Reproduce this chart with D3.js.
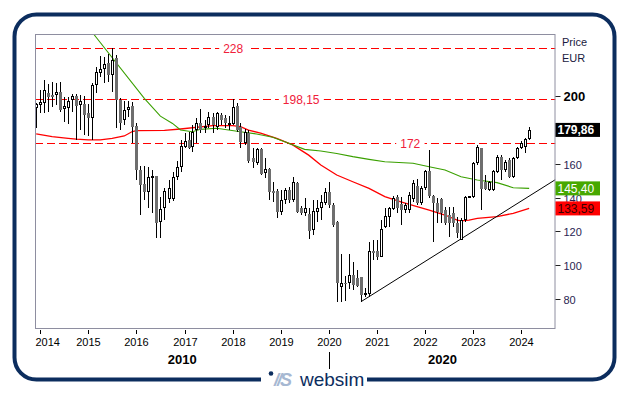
<!DOCTYPE html>
<html><head><meta charset="utf-8">
<script src="https://cdn.jsdelivr.net/npm/d3@7/dist/d3.min.js"></script>
<style>
body{margin:0;background:#fff}
svg{display:block;font-family:"Liberation Sans",Arial,sans-serif}
</style>
</head><body>
<svg id="chart" width="629" height="395"></svg>
<script>
// ---------- DATA ----------
const firstMonth = "2013-12";   // first monthly candle
const openV  = [193,194.3,196,201.9,200.7,200.3,202.3,192.4,193,197.5,199.9,194.6,195.2,190.1,187.1,206.2,213.7,215.6,219.6,212.3,222,197.5,185.8,191.5,194,182.2,156.3,148,143,152.2,152.5,125.8,133.6,139.1,139.1,151.9,157.8,169.6,173.9,169.5,179.8,184.1,180.8,182.8,187.7,181.8,188.7,186.7,182.8,183.3,194,181.8,172,178.2,163.1,160.6,168.4,154.3,156.6,144,144,131.7,138.5,144.4,138.5,148.7,133.6,131,130.3,120.8,131.7,133.6,137,143.4,135.6,125.8,87.5,89.5,89.4,94.3,92.3,92.9,82.5,83.1,108.7,108.5,105.1,122.4,128.3,133,140.5,136.2,132.6,132.6,138.9,147,136.6,145.4,155.6,140.9,136.6,138.9,132.6,129.7,130.7,124.8,115,126.7,140.1,140.5,160.2,169,149.3,144.4,144.4,155.2,164.1,156.2,162.1,152.3,163.1,169,170,174.3];
const highV  = [196,203.4,209,207,208.3,207.4,208.4,199.5,199.5,200.9,201.1,200.5,199.9,195.2,207.4,217.2,223.5,223.1,224.7,228,224,198.8,197.2,197,196.6,183.8,158.3,158.3,157.9,156,152.5,140.6,145.4,150.3,155.3,161.5,173.9,177.9,178.8,182.8,186.7,192,185.7,190.6,189.6,190.6,189.6,188.7,188,197.9,196,184.1,180.2,179.8,169,169,169,163.1,157.2,149.4,145,144.4,145.4,146,152.3,149.3,135,140,133.6,138.5,138.5,141.5,145.4,149.3,136.6,126,107,94,107,102.2,97.3,93.3,86.4,114,115,115,126.7,133.6,134.6,140.9,141.5,140.5,137,143.4,150.3,151,146.8,156.2,168,141.5,139.5,139.5,134.6,134.6,134.6,128.7,127.7,140.9,141.2,161.1,171,169.4,153.3,150,156.2,165,165,162.1,163.1,164.1,170,173.5,174.9,181.5];
const lowV   = [181,190,190,190.7,193.6,194.6,190.7,184.8,183.4,190.7,174,180,176.9,176.3,174,201.5,211.3,207.8,208.4,202.5,180.8,180,182.8,187.3,172,150.4,129.8,138.6,133.7,131,116,116,126.8,136.6,138,150.3,155.3,169,168.5,167,172,178,177.9,180.8,177.9,179.8,182.8,180.8,179.8,182.8,178.8,169,171,160.2,157.2,159.2,153.3,151.3,138.5,137.5,127.7,129.7,136.2,137,137.5,130.7,129.7,129,115.3,117.9,125.8,126.7,135.6,134,122.8,78.6,78.6,79,86,85.5,87,78.6,81.5,81.5,103.2,103.2,104.7,121.8,122.8,132.6,130.7,123.8,131,130.7,137.5,135.6,135.6,144.4,140,114,124.8,124.8,123.8,116.9,122.8,115.9,115,125.8,139.5,139.5,159.2,132.6,144.4,144,144,154.3,150.3,155,151.3,151.8,162.5,168.5,166,173.8];
const closeV = [195,196.6,203.4,199.5,199.5,202.3,191.7,194,197,199.9,194,197,188.7,186.7,206.4,214,215.6,218.8,212.1,221.1,197.5,184.2,191.7,193.2,181.8,156.3,147.4,143.5,152.4,152.6,125.2,133.1,143.9,145.4,151.9,157.8,170.4,173.3,169,178.8,183.7,179.8,182.4,187.7,182.8,189.6,185.7,183.7,184.1,193.2,179.8,172.9,178.8,161.5,161.1,168.4,153.9,156.6,143.5,142.5,131.7,138.5,144.4,138.5,149.3,131.7,130.7,134,120.4,132.2,133.6,137.5,143.4,135.5,123.8,89.4,89.5,89,94.3,88.4,88,82.5,83.5,108.5,107.5,105.1,121.4,129.1,133.6,139.9,133.6,132.6,135.6,141.5,148.7,137,145.4,155.6,140.9,136.6,131.7,131.1,124.8,124.8,124.8,118.9,126.7,140.1,140.9,160.2,170,144.8,144.8,149.3,155.6,164.1,156.2,161.1,152.3,163.1,169,171.9,174.3,179.86];

// moving averages (candle number, value)
const redMAIdx   = [1,5,9,11,14,17,20,23,25,26,33,37,45,50,52,54,57,61,65,69,72,76,80,84,88,92,96,99,103,106,107,109,111,116,120,124];
const redMAVal   = [177.5,175.9,174.9,174.4,174,174,174.9,176.3,178.9,179.5,179.6,180.4,182.4,182.4,181.8,179.8,177.9,174.9,171,165,159.2,153.3,149.3,145.4,140.5,137.5,134.6,132.6,129.7,126.7,126.3,126.7,127.7,128.7,130.7,133.59];
const greenMAIdx = [13,16,28,32,35,37,40,42,46,49,52,56,60,63,68,72,76,80,84,88,95,99,103,107,111,116,120,124];
const greenMAVal = [243.5,234.5,198.5,188,183.7,179.8,178.8,180.2,180.8,179.8,178.8,177.5,175.5,172.9,168.4,167.4,166,164.1,162.5,161.1,160.2,158.2,156.2,152.3,150.3,148.8,145.8,145.4];

const trendDates  = ["2020-09-01","2024-09-15"];
const trendValues = [78.6,150.5];

const levelValues = [228,198.15,172];
const levelLabels = ["228","198,15","172"];
const levelLabelDates = ["2018-01-05","2019-06-05","2021-09-10"];

const yTickValues = [80,100,120,140,160,200];   // 180 is hidden under the last-price box
const yearTicks = ["2014","2015","2016","2017","2018","2019","2020","2021","2022","2023","2024"];
const decadeLabels = ["2010","2020"];
const lastBoxes = [
  {label:"179,86", value:179.86, fill:"#000000", text:"#ffffff", bold:true},
  {label:"145,40", value:145.40, fill:"#47a800", text:"#ffffff", bold:false},
  {label:"133,59", value:133.59, fill:"#ff0000", text:"#3a0000", bold:false}
];

// ---------- SETUP ----------
const parseM = d3.timeParse("%Y-%m");
const parseD = d3.timeParse("%Y-%m-%d");
const start = parseM(firstMonth);
const candles = openV.map((o,i)=>({date:d3.timeMonth.offset(start,i), o, h:highV[i], l:lowV[i], c:closeV[i]}));
const idxDate = i => d3.timeMonth.offset(start, i-1);

const svg = d3.select("#chart");
const L=35, R=555.5, T=34, B=328;
const x = d3.scaleTime().domain([new Date(2013,10,22), new Date(2024,8,17)]).range([L,R]);
const y = d3.scaleLinear().domain([63.1,236.4]).range([B,T]);

// outer rounded frame
svg.append("rect").attr("x",14.5).attr("y",14.5).attr("width",600).attr("height",365)
  .attr("rx",22).attr("fill","none").attr("stroke","#0c2d5e").attr("stroke-width",4);
svg.append("rect").attr("x",261).attr("y",372).attr("width",106).attr("height",16).attr("fill","#fff");

// logo
svg.append("circle").attr("cx",271).attr("cy",373.5).attr("r",2.3).attr("fill","#0c2d5e");
svg.append("text").attr("x",274).attr("y",386).attr("font-size",18).attr("font-weight","bold")
  .attr("font-style","italic").attr("fill","#a6b8d2").attr("letter-spacing",-2).text("//S");
svg.append("text").attr("x",300).attr("y",386).attr("font-size",19).attr("fill","#0c2d5e").text("websim");

// clip
svg.append("clipPath").attr("id","clip").append("rect").attr("x",L).attr("y",T).attr("width",R-L).attr("height",B-T);
const plot = svg.append("g").attr("clip-path","url(#clip)");

// level lines
levelValues.forEach((v,i)=>{
  const yy = Math.round(y(v))+0.5;
  plot.append("line").attr("x1",L).attr("x2",R).attr("y1",yy).attr("y2",yy)
    .attr("stroke","#ff0000").attr("stroke-dasharray","8,4").attr("stroke-width",1);
  const tx = x(parseD(levelLabelDates[i]));
  const t = plot.append("text").attr("x",tx).attr("y",yy+4).attr("text-anchor","middle")
    .attr("font-size",12).attr("fill","#f0203a").text(levelLabels[i]);
  const bb = t.node().getBBox();
  plot.insert("rect", "text:last-of-type").attr("x",bb.x-4).attr("y",yy-2).attr("width",bb.width+8).attr("height",4).attr("fill","#fff");
});

// moving averages
const line = d3.line().x(d=>x(d[0])).y(d=>y(d[1]));
plot.append("path").datum(redMAIdx.map((n,i)=>[idxDate(n),redMAVal[i]]))
  .attr("d",line).attr("fill","none").attr("stroke","#ff0000").attr("stroke-width",1.3);
plot.append("path").datum(greenMAIdx.map((n,i)=>[idxDate(n),greenMAVal[i]]))
  .attr("d",line).attr("fill","none").attr("stroke","#3aa000").attr("stroke-width",1.1);

// trend line
plot.append("path").datum(trendDates.map((d,i)=>[parseD(d),trendValues[i]]))
  .attr("d",line).attr("fill","none").attr("stroke","#000").attr("stroke-width",1);

// candles
const cg = plot.append("g").attr("shape-rendering","crispEdges");
candles.forEach(d=>{
  const cx = Math.round(x(d.date));
  cg.append("line").attr("x1",cx+0.5).attr("x2",cx+0.5).attr("y1",Math.round(y(d.h))).attr("y2",Math.round(y(d.l)))
    .attr("stroke","#000").attr("stroke-width",1);
  const top = Math.round(y(Math.max(d.o,d.c))), bot = Math.round(y(Math.min(d.o,d.c)));
  if (d.c >= d.o) {
    cg.append("rect").attr("x",cx-0.5).attr("y",top+0.5).attr("width",2).attr("height",Math.max(bot-top-1,1))
      .attr("fill","#fff").attr("stroke","#000").attr("stroke-width",1);
  } else {
    cg.append("rect").attr("x",cx-1).attr("y",top).attr("width",3).attr("height",Math.max(bot-top,1))
      .attr("fill","#6e6e6e");
  }
});

// plot frame
svg.append("rect").attr("x",L+0.5).attr("y",T+0.5).attr("width",R-L-1).attr("height",B-T)
  .attr("fill","none").attr("stroke","#8e8ea0").attr("stroke-width",1);

// right axis
yTickValues.forEach(v=>{
  const yy = Math.round(y(v))+0.5;
  svg.append("line").attr("x1",R).attr("x2",R+5).attr("y1",yy).attr("y2",yy).attr("stroke","#222");
  svg.append("text").attr("x",R+8).attr("y",yy+4).attr("font-size",v===200?13:11)
    .attr("font-weight",v===200?"bold":"normal").attr("fill",v===200?"#000":"#2a2452").text(v);
});
svg.append("text").attr("x",562).attr("y",46).attr("font-size",11).attr("fill","#1a1a40").text("Price");
svg.append("text").attr("x",562).attr("y",61.5).attr("font-size",11).attr("fill","#1a1a40").text("EUR");

// last value boxes
lastBoxes.forEach(b=>{
  const yy = y(b.value);
  svg.append("rect").attr("x",R).attr("y",yy-7).attr("width",44.5).attr("height",14).attr("fill",b.fill);
  svg.append("text").attr("x",R+2).attr("y",yy+4.5).attr("font-size",12).attr("font-weight",b.bold?"bold":"normal")
    .attr("fill",b.text).text(b.label);
});

// bottom axis
yearTicks.forEach((t,i)=>{
  const xx = Math.round(x(new Date(+t,0,1)))+0.5;
  svg.append("line").attr("x1",xx).attr("x2",xx).attr("y1",B+2).attr("y2",B+6).attr("stroke","#000");
  svg.append("text").attr("x",i===0?L+0.5:xx).attr("y",346).attr("text-anchor",i===0?"start":"middle")
    .attr("font-size",11).attr("fill","#000").text(t);
});
const x2020 = Math.round(x(new Date(2020,0,1)))+0.5;
svg.append("line").attr("x1",x2020).attr("x2",x2020).attr("y1",352).attr("y2",369).attr("stroke","#000");
svg.append("text").attr("x",(L+x2020)/2).attr("y",364).attr("text-anchor","middle").attr("font-size",13)
  .attr("font-weight","bold").text(decadeLabels[0]);
svg.append("text").attr("x",(x2020+R)/2).attr("y",364).attr("text-anchor","middle").attr("font-size",13)
  .attr("font-weight","bold").text(decadeLabels[1]);
</script>
</body></html>
